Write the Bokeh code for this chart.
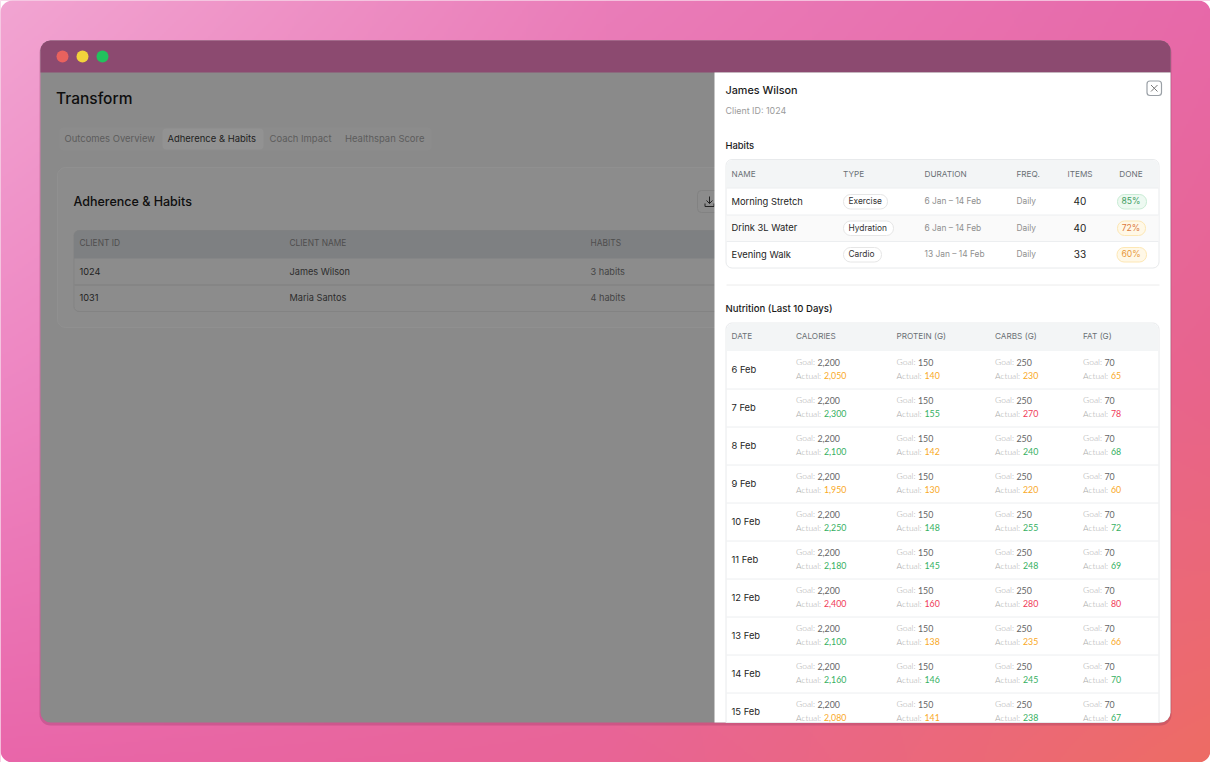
from bokeh.plotting import figure
from bokeh.models import Range1d
from bokeh.core.properties import value
from bokeh.embed import file_html
from bokeh.resources import INLINE
import numpy as np

# drawer: habits table
habit_headers = ["NAME", "TYPE", "DURATION", "FREQ.", "ITEMS", "DONE"]
habit_names = ["Morning Stretch", "Drink 3L Water", "Evening Walk"]
habit_types = ["Exercise", "Hydration", "Cardio"]
habit_durations = ["6 Jan – 14 Feb", "6 Jan – 14 Feb", "13 Jan – 14 Feb"]
habit_freq = ["Daily", "Daily", "Daily"]
habit_items = [40, 40, 33]
habit_done = [85, 72, 60]

# drawer: nutrition table
nutrition_headers = ["DATE", "CALORIES", "PROTEIN (G)", "CARBS (G)", "FAT (G)"]
dates = ["6 Feb", "7 Feb", "8 Feb", "9 Feb", "10 Feb", "11 Feb", "12 Feb", "13 Feb", "14 Feb", "15 Feb"]
calorie_goal = 2200
protein_goal = 150
carbs_goal = 250
fat_goal = 70
calories = [2050, 2300, 2100, 1950, 2250, 2180, 2400, 2100, 2160, 2080]
protein = [140, 155, 142, 130, 148, 145, 160, 138, 146, 141]
carbs = [230, 270, 240, 220, 255, 248, 280, 235, 245, 238]
fat = [65, 78, 68, 60, 72, 69, 80, 66, 70, 67]

# dimmed page behind the drawer
tabs = ["Outcomes Overview", "Adherence & Habits", "Coach Impact", "Healthspan Score"]
client_headers = ["CLIENT ID", "CLIENT NAME", "HABITS"]
client_ids = ["1024", "1031"]
client_names = ["James Wilson", "Maria Santos"]
client_habits = ["3 habits", "4 habits"]

FONT = "Inter"
MEDIUM = '"Inter Medium", Inter'
SMALL = "Lato"
LIGHT = '"Lato Light", Lato'

GREEN = "#35b062"
ORANGE = "#f9a91f"
RED = "#f03a58"


def box(p, l, r, t, b, fill, line=None, radius=0, width=1, alpha=1):
    p.quad(left=l, right=r, top=t, bottom=b, fill_color=fill, line_color=line,
           line_width=width, border_radius=radius, fill_alpha=alpha)


def hline(p, x0, x1, y, color):
    p.segment(x0=[x0], x1=[x1], y0=[y], y1=[y], line_color=color, line_width=1)


def label(p, x, y, s, size, color, font=FONT, align="left"):
    p.text(x=[x - 0.5], y=[y - 0.5], text=[s], text_font=value(font), text_font_size=f"{size}px",
           text_color=color, text_align=align, text_baseline="middle")


def draw_background(p):
    # soft pink to coral wash behind the window
    stops = np.array([
        [[242, 165, 210], [234, 125, 185], [231, 105, 170]],
        [[238, 135, 195], [234, 110, 170], [232, 100, 140]],
        [[233, 102, 170], [232, 100, 150], [238, 108, 100]],
    ], dtype=float)
    h, w = 381, 605
    yy = np.linspace(0, 2, h)
    xx = np.linspace(0, 2, w)
    img = np.zeros((h, w), dtype=np.uint32)
    view = img.view(np.uint8).reshape((h, w, 4))
    for c in range(3):
        across = np.array([np.interp(xx, [0, 1, 2], stops[i, :, c]) for i in range(3)])
        for j in range(w):
            view[:, j, c] = np.interp(yy, [0, 1, 2], across[:, j])
    view[:, :, 3] = 255
    p.image_rgba(image=[img], x=0, y=0, dw=1210, dh=762)
    # white page corners
    box(p, -10, 1220, -10, 772, "#ffffff", "#ffffff", radius=22, width=20, alpha=0)


def draw_window(p):
    box(p, 39, 1171, 41, 725, "#7a2c55", radius=11, alpha=0.25)
    box(p, 40, 1170, 40, 722, "#8a8a8a", radius=10)
    box(p, 40, 1170, 40, 72, "#8c4a70", radius=(10, 10, 0, 0))
    p.scatter(x=[62, 82, 102], y=[56, 56, 56], size=12, line_color=None,
              fill_color=["#e9625e", "#f2d33c", "#22c25d"])


def draw_page(p):
    label(p, 56, 98, "Transform", 15.5, "#0e0e0e", MEDIUM)
    box(p, 59, 431, 127, 150, "#8c8c8c", radius=4)
    box(p, 162, 263, 128, 149, "#929292", radius=4)
    for name, x in zip(tabs, [64.5, 167.5, 269.5, 345]):
        color = "#1e1e1e" if name == tabs[1] else "#5c5c5c"
        label(p, x, 138, name, 9.45, color)

    box(p, 57, 730, 167, 327, "#8c8c8c", "#909090", radius=8)
    label(p, 73.5, 201, "Adherence & Habits", 12.5, "#0e0e0e", MEDIUM)
    box(p, 697, 725, 190, 212, "#8c8c8c", "#828282", radius=4)
    # download icon: arrow into a tray
    p.multi_line(xs=[[709, 709], [706, 709, 712], [704.5, 704.5, 713.5, 713.5]],
                 ys=[[196, 203], [200, 203, 200], [203, 206, 206, 203]],
                 line_color="#222222", line_width=1)

    box(p, 73.5, 730, 230, 311, "#8c8c8c", "#838383", radius=5)
    box(p, 73.5, 730, 230, 258, "#7e8082", radius=(5, 0, 0, 0))
    hline(p, 74, 714, 284.5, "#7f7f7f")
    for s, x in zip(client_headers, [79.5, 289.5, 590.5]):
        label(p, x, 243, s, 8.4, "#4e4e4e")
    for i in range(2):
        y = 271 + i * 26.5
        label(p, 79.5, y, client_ids[i], 9.2, "#222222")
        label(p, 289.5, y, client_names[i], 9.2, "#2c2c2c")
        label(p, 590.5, y, client_habits[i], 9.2, "#444444")


def done_style(v):
    if v >= 80:
        return "#edf9f1", "#c9ecd5", "#3f9d62"
    if v >= 70:
        return "#fff8e7", "#fde7b4", "#dc7a3c"
    return "#fff8e7", "#fde7b4", "#e8983c"


def draw_habits(p):
    box(p, 725.5, 1158.5, 159, 267.5, "#ffffff", "#e8eaec", radius=6)
    box(p, 726, 1158, 159.5, 187.5, "#f3f5f6", radius=(6, 6, 0, 0))
    box(p, 726, 1158, 214.5, 241, "#fafafa")
    hline(p, 726, 1158, 187.5, "#eceef0")
    hline(p, 726, 1158, 214.5, "#eceef0")
    hline(p, 726, 1158, 241, "#eceef0")

    for s, x, a in zip(habit_headers, [731.5, 843, 924.5, 1016.5, 1080, 1131],
                       ["left", "left", "left", "left", "center", "center"]):
        label(p, x, 173.5, s, 8.2, "#6a7075", align=a)

    type_right = [887, 893, 881]
    done_left = [1117, 1117, 1116.5]
    done_right = [1146, 1145, 1146]
    for i in range(3):
        y = 201 + i * 26.5
        label(p, 731.5, y, habit_names[i], 9.4, "#1e1e1e")
        box(p, 843, type_right[i], y - 7, y + 7.5, "#ffffff", "#e6e6e6", radius=7)
        label(p, 848.5, y, habit_types[i], 8.4, "#333333")
        label(p, 924.5, y, habit_durations[i], 8.4, "#8f8f8f")
        label(p, 1016.5, y, habit_freq[i], 8.4, "#8f8f8f")
        label(p, 1080, y, str(habit_items[i]), 10, "#1e1e1e", align="center")
        bg, edge, ink = done_style(habit_done[i])
        box(p, done_left[i], done_right[i], y - 7, y + 7.5, bg, edge, radius=7)
        label(p, 1131, y, f"{habit_done[i]}%", 8.6, ink, align="center")


def actual_color(actual, goal):
    ratio = actual / goal
    if ratio > 1.05:
        return RED
    if ratio < 0.95:
        return ORANGE
    return GREEN


def draw_nutrition(p):
    first, step = 350.5, 38
    box(p, 725.5, 1158.5, 322.5, 722, "#ffffff", "#e8eaec", radius=(6, 6, 0, 0))
    box(p, 726, 1158, 323, 350.5, "#f3f5f6", radius=(6, 6, 0, 0))
    for s, x in zip(nutrition_headers, [731.5, 796, 896.5, 995, 1083]):
        label(p, x, 336, s, 8.2, "#6a7075")

    cols = [
        (796, calorie_goal, calories),
        (896.5, protein_goal, protein),
        (995, carbs_goal, carbs),
        (1083, fat_goal, fat),
    ]
    for i, day in enumerate(dates):
        top = first + i * step
        if i:
            hline(p, 726, 1158, top, "#eceef0")
        label(p, 731.5, top + 19, day, 9.4, "#1e1e1e")
        for x, goal, values in cols:
            label(p, x, top + 11.5, "Goal:", 8.5, "#aaaaaa", LIGHT)
            label(p, x + 21.5, top + 11.5, f"{goal:,}", 8.8, "#666666", SMALL)
            label(p, x, top + 25, "Actual:", 8.5, "#aaaaaa", LIGHT)
            label(p, x + 28, top + 25, f"{values[i]:,}", 8.8,
                  actual_color(values[i], goal), SMALL)


def draw_drawer(p):
    box(p, 714, 1170, 72, 722, "#ffffff", radius=(0, 0, 10, 0))
    label(p, 725.5, 90, "James Wilson", 10.8, "#1a1a1a", MEDIUM)
    label(p, 725.5, 110, "Client ID: 1024", 8.9, "#9b9b9b")
    box(p, 1146.5, 1161, 80.5, 95, "#ffffff", "#9aa0a6", radius=3, width=1.2)
    p.segment(x0=[1150.5, 1157], x1=[1157, 1150.5], y0=[84.5, 84.5], y1=[91, 91],
              line_color="#777777", line_width=1)
    label(p, 725.5, 145, "Habits", 9.4, "#1a1a1a", MEDIUM)
    draw_habits(p)
    hline(p, 726, 1159, 284.5, "#ececec")
    label(p, 725.5, 308, "Nutrition (Last 10 Days)", 9.6, "#1a1a1a", MEDIUM)
    draw_nutrition(p)


p = figure(width=1210, height=762, output_backend="svg", toolbar_location=None,
           x_range=Range1d(0, 1210), y_range=Range1d(762, 0), min_border=0)
p.axis.visible = False
p.grid.visible = False
p.outline_line_color = None
p.background_fill_color = "#e87ab8"
p.border_fill_color = "#e87ab8"

draw_background(p)
draw_window(p)
draw_page(p)
draw_drawer(p)

open("out.html", "w").write(file_html(p, INLINE))
